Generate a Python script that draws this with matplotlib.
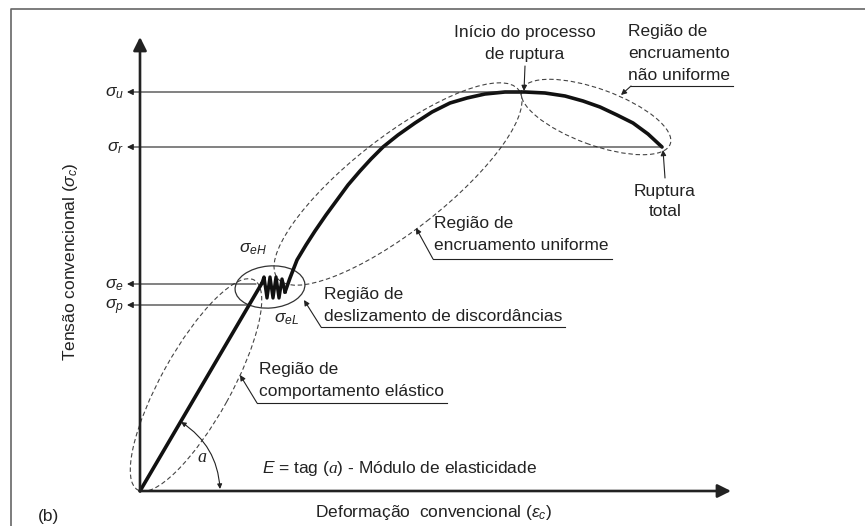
import matplotlib
matplotlib.use("Agg")
import matplotlib.pyplot as plt
from matplotlib.patches import Ellipse

plt.rcParams["font.family"] = "Liberation Sans"
plt.rcParams["mathtext.fontset"] = "custom"
plt.rcParams["mathtext.rm"] = "Liberation Sans"
plt.rcParams["mathtext.it"] = "Liberation Sans:italic"
plt.rcParams["mathtext.cal"] = "Liberation Serif:italic"

# curve (arbitrary units, origin at the axes corner)
elastic_strain = [0, 122]
elastic_stress = [0, 208]
yield_strain = [122, 124, 127, 130, 133, 136, 139, 142, 145]
yield_stress = [208, 214, 193, 214, 193, 214, 193, 212, 199]
hard_strain = [145, 150, 157, 166, 175, 186, 197, 208, 220, 231, 243, 258, 275,
               292, 310, 327, 345, 365, 385, 405, 425, 443, 460, 477, 493, 508, 522]
hard_stress = [199, 213, 231, 246, 260, 276, 291, 306, 320, 332, 344, 356, 368,
               379, 388, 393, 397, 399, 399, 398, 395, 390, 384, 376, 368, 357, 344]

# stress levels marked on the vertical axis
level_names = [r"$\sigma_u$", r"$\sigma_r$", r"$\sigma_e$", r"$\sigma_p$"]
level_stress = [399, 344, 207, 186]
level_strain = [383, 522, 116, 110]

INK = "#222222"
DASH = (0, (4, 2.5))
FS = 12.5

fig = plt.figure(figsize=(8.65, 5.26), dpi=100)
ax = fig.add_axes([0, 0, 1, 1])
ax.set_xlim(-140, 725)
ax.set_ylim(-35, 491)
ax.axis("off")

# frame
ax.plot([-129, -129, 725], [-35, 482, 482], color="#666666", lw=1.2, clip_on=False)


def arrow(tip, tail, lw=0.8, ms=9, style="-|>", conn="arc3"):
    ax.annotate("", xy=tip, xytext=tail,
                arrowprops=dict(arrowstyle=style, lw=lw, color=INK, mutation_scale=ms,
                                shrinkA=0, shrinkB=0, connectionstyle=conn))


# axes
arrow((0, 454), (0, 0), lw=1.9, ms=20)
arrow((591, 0), (0, 0), lw=1.9, ms=20)

# stress levels
for name, s, e in zip(level_names, level_stress, level_strain):
    arrow((-13, s), (e, s), lw=0.8, ms=9)
    ax.text(-16, s - 4, name, ha="right", va="baseline", fontsize=FS, color=INK)

# curve
ax.plot(elastic_strain, elastic_stress, color="#111111", lw=2.6, solid_capstyle="round")
ax.plot(yield_strain, yield_stress, color="#111111", lw=2.4, solid_joinstyle="round")
ax.plot(hard_strain, hard_stress, color="#111111", lw=2.6, solid_capstyle="round")

# regions
ax.add_patch(Ellipse((56, 106), 240, 70, angle=61, fill=False, ec="#444444", lw=0.8, ls=DASH))
ax.add_patch(Ellipse((130, 204), 70, 42, angle=5, fill=False, ec="#333333", lw=0.9))
ax.add_patch(Ellipse((258, 307), 306, 94, angle=38, fill=False, ec="#444444", lw=0.8, ls=DASH))
ax.add_patch(Ellipse((456, 374), 158, 56, angle=-20, fill=False, ec="#444444", lw=0.8, ls=DASH))

ax.text(113, 239, r"$\sigma_{eH}$", ha="center", va="baseline", fontsize=FS, color=INK)
ax.text(147, 169, r"$\sigma_{eL}$", ha="center", va="baseline", fontsize=FS, color=INK)

# callouts with underlined labels: label, arrow tip, knee, last-line baseline position
callouts = [
    ("Região de\ncomportamento elástico", (100, 116), (117, 88), (119, 95)),
    ("Região de\ndeslizamento de discordâncias", (164, 191), (181, 164), (184, 170)),
    ("Região de\nencruamento uniforme", (276, 263), (293, 232), (294, 241)),
    ("Região de\nencruamento\nnão uniforme", (481, 396), (491, 405), (488, 411)),
]
fig.canvas.draw()
renderer = fig.canvas.get_renderer()
for label, tip, knee, pos in callouts:
    t = ax.text(pos[0], pos[1], label, ha="left", va="baseline", fontsize=FS,
                color=INK, linespacing=1.6)
    bb = t.get_window_extent(renderer).transformed(ax.transData.inverted())
    arrow(tip, knee, lw=0.8, ms=8)
    ax.plot([knee[0], bb.x1 + 3], [knee[1], knee[1]], color=INK, lw=0.8)

ax.text(385, 432, "Início do processo\nde ruptura", ha="center", va="baseline",
        fontsize=FS, color=INK, linespacing=1.55, multialignment="center")
arrow((384, 400), (385, 425), lw=0.8, ms=8)
ax.text(525, 275, "Ruptura\ntotal", ha="center", va="baseline",
        fontsize=FS, color=INK, linespacing=1.45, multialignment="center")
arrow((523, 341), (525, 313), lw=0.8, ms=8)

# angle of the elastic line
arrow((80, 2), (41, 69), lw=0.8, ms=7, style="<|-|>", conn="arc3,rad=-0.25")
ax.text(62, 34, r"$\mathcal{a}$", ha="center", va="center", fontsize=13, color=INK)
ax.text(122, 18, r"$E$ = tag ($\mathcal{a}$) - Módulo de elasticidade", ha="left",
        va="baseline", fontsize=FS, color=INK)

# axis titles
ax.text(-69, 229, r"Tensão convencional ($\sigma_c$)", rotation=90, ha="center",
        va="center", fontsize=FS, color=INK)
ax.text(175, -26, r"Deformação  convencional ($\varepsilon_c$)", ha="left",
        va="baseline", fontsize=FS, color=INK)
ax.text(-102, -30, "(b)", ha="left", va="baseline", fontsize=FS, color=INK)

fig.savefig("out.png", dpi=100)
